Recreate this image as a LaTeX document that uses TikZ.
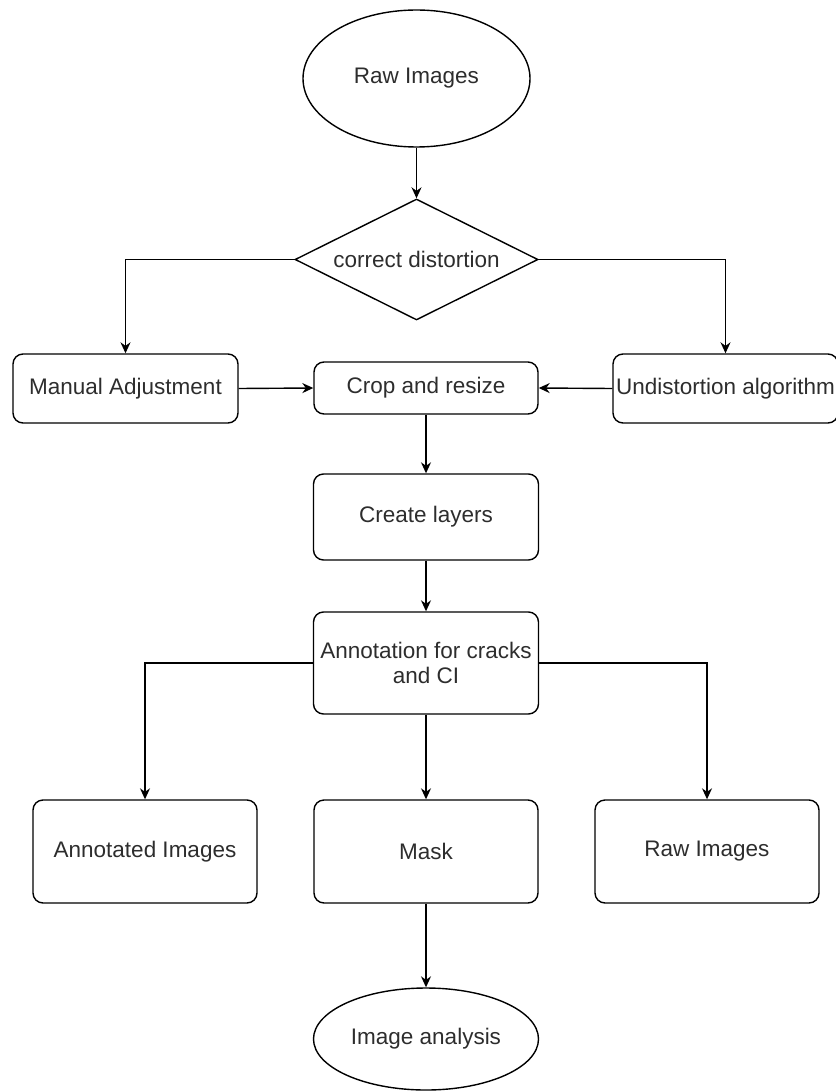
\documentclass[tikz,border=0pt]{standalone}
\usepackage{fontspec}
\setmainfont{Liberation Sans}
\usetikzlibrary{shapes.geometric,arrows.meta}
\definecolor{txt}{RGB}{45,45,45}
\tikzset{
  every node/.style={font=\fontsize{22.5}{25}\selectfont, text=txt, inner sep=0pt},
  shp/.style={draw=black, line width=1.4pt},
  rbox/.style={shp, rectangle, rounded corners=10pt},
  ell/.style={shp, ellipse},
  dia/.style={shp, diamond},
  arr/.style={draw=black, line width=1.4pt, -{Stealth[length=11pt,width=10pt]}}
}
\begin{document}
\begin{tikzpicture}[x=1pt,y=-1pt]
\useasboundingbox (0,0) rectangle (835,1091);
\node[ell, minimum width=227pt, minimum height=137pt] (raw) at (416.5,78.5) {Raw Images};
\node[dia, minimum width=243pt, minimum height=121pt] (dist) at (416.5,259.5) {};
\node (distt) at (dist.center) {correct distortion};
\node[rbox, minimum width=225pt, minimum height=69pt] (man) at (125.5,388.5) {Manual Adjustment};
\node[rbox, minimum width=224pt, minimum height=52pt] (crop) at (426,388) {Crop and resize};
\node[rbox, minimum width=225pt, minimum height=69pt] (und) at (725.5,388.5) {Undistortion algorithm};
\node[rbox, minimum width=225pt, minimum height=86pt] (lay) at (426,517) {Create layers};
\node[rbox, minimum width=225pt, minimum height=102pt, align=center] (ann) at (426,663) {Annotation for cracks\\and CI};
\node[rbox, minimum width=224pt, minimum height=103pt] (ai) at (145,851.5) {Annotated Images};
\node[rbox, minimum width=224pt, minimum height=103pt] (mask) at (426,851.5) {Mask};
\node[rbox, minimum width=224pt, minimum height=103pt] (rawb) at (707,851.5) {Raw Images};
\node[ell, minimum width=225pt, minimum height=102pt] (ia) at (426,1039) {Image analysis};

\draw[arr] (raw.south) -- (dist.north);
\draw[arr] (dist.west) -| (man.north);
\draw[arr] (dist.east) -| (und.north);
\draw[arr] (man.east) -- (crop.west);
\draw[arr] (und.west) -- (crop.east);
\draw[arr] (crop.south) -- (lay.north);
\draw[arr] (lay.south) -- (ann.north);
\draw[arr] (ann.west) -| (ai.north);
\draw[arr] (ann.east) -| (rawb.north);
\draw[arr] (ann.south) -- (mask.north);
\draw[arr] (mask.south) -- (ia.north);
\end{tikzpicture}
\end{document}
